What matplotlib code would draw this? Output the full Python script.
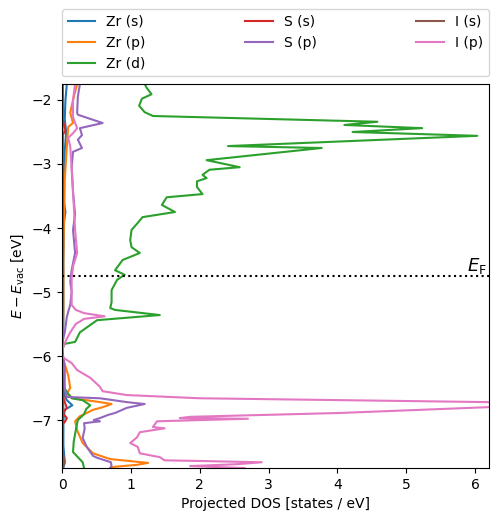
"""Projected DOS of ZrSI-type slab, energy vs vacuum level."""

import matplotlib.pyplot as plt

# energies [eV] and projected DOS [states / eV]
zr_s_E = [-1.75, -2.0, -2.3, -2.5, -2.8, -3.2, -3.6, -3.75, -3.9, -4.5, -5.0, -5.5,
          -5.8, -6.0, -6.4, -6.6, -6.69, -6.77, -6.84, -7.0, -7.4, -7.66, -7.75]
zr_s_dos = [0.07, 0.05, 0.04, 0.06, 0.04, 0.03, 0.03, 0.05, 0.03, 0.02, 0.02, 0.02,
            0.01, 0.0, 0.01, 0.03, 0.07, 0.15, 0.04, 0.02, 0.02, 0.04, 0.02]

zr_p_E = [-1.75, -2.0, -2.2, -2.36, -2.42, -2.73, -3.25, -3.8, -4.5, -5.3, -5.8, -6.0,
          -6.09, -6.30, -6.50, -6.58, -6.66, -6.72, -6.75, -6.80, -6.84, -6.89, -6.94,
          -7.02, -7.16, -7.36, -7.52, -7.61, -7.67, -7.70, -7.73, -7.75]
zr_p_dos = [0.22, 0.16, 0.12, 0.16, 0.09, 0.07, 0.04, 0.03, 0.02, 0.02, 0.01, 0.01,
            0.03, 0.09, 0.12, 0.07, 0.16, 0.55, 0.72, 0.59, 0.45, 0.36, 0.26,
            0.19, 0.22, 0.30, 0.45, 0.70, 1.25, 1.09, 0.77, 0.70]

zr_d_E = [-1.75, -1.81, -1.91, -1.98, -2.09, -2.19, -2.25, -2.34, -2.39, -2.44, -2.50,
          -2.56, -2.72, -2.75, -2.94, -3.05, -3.09, -3.17, -3.22, -3.27, -3.36, -3.47,
          -3.52, -3.64, -3.75, -3.83, -3.92, -4.03, -4.19, -4.30, -4.39, -4.50, -4.66,
          -4.73, -4.81, -4.97, -5.16, -5.25, -5.28, -5.36, -5.44, -5.63, -5.78, -5.81,
          -5.9, -6.45, -6.56, -6.66, -6.69, -6.77, -6.83, -6.91, -7.00, -7.16, -7.34,
          -7.50, -7.58, -7.66, -7.75]
zr_d_dos = [1.20, 1.23, 1.30, 1.16, 1.12, 1.20, 1.32, 4.58, 4.10, 5.23, 4.22,
            6.03, 2.41, 3.77, 2.10, 2.58, 2.14, 2.04, 2.10, 1.96, 1.96, 2.04,
            1.52, 1.45, 1.64, 1.17, 1.10, 1.01, 0.99, 1.01, 1.13, 0.88, 0.77,
            0.91, 0.80, 0.72, 0.72, 0.70, 0.77, 1.42, 0.51, 0.26, 0.19, 0.04,
            0.0, 0.0, 0.07, 0.14, 0.30, 0.41, 0.35, 0.32, 0.23, 0.20, 0.17,
            0.16, 0.23, 0.30, 0.32]

s_s_E = [-1.75, -2.3, -2.4, -2.47, -2.55, -3.0, -4.0, -5.0, -5.8, -6.5, -6.65, -6.72,
         -6.81, -6.89, -6.97, -7.03, -7.08, -7.5, -7.75]
s_s_dos = [0.01, 0.01, 0.03, 0.05, 0.01, 0.01, 0.01, 0.01, 0.0, 0.01, 0.02, 0.04,
           0.07, 0.01, 0.07, 0.04, 0.0, 0.01, 0.01]

s_p_E = [-1.75, -1.95, -2.20, -2.23, -2.36, -2.44, -2.55, -2.62, -2.75, -2.81, -3.05,
         -3.45, -3.78, -4.03, -4.39, -4.66, -4.84, -5.0, -5.20, -5.31, -5.39, -5.63,
         -5.77, -5.9, -6.02, -6.2, -6.5, -6.64, -6.66, -6.72, -6.75, -6.81, -6.89,
         -6.92, -6.97, -7.00, -7.02, -7.05, -7.13, -7.28, -7.42, -7.56, -7.59, -7.66,
         -7.72, -7.75]
s_p_dos = [0.26, 0.23, 0.22, 0.23, 0.59, 0.26, 0.29, 0.23, 0.29, 0.16, 0.14,
           0.16, 0.19, 0.16, 0.19, 0.14, 0.12, 0.14, 0.12, 0.09, 0.07, 0.04,
           0.01, 0.0, 0.02, 0.04, 0.04, 0.07, 0.55, 0.94, 1.20, 0.94, 0.77,
           0.67, 0.55, 0.46, 0.55, 0.32, 0.33, 0.30, 0.36, 0.45, 0.51, 0.71,
           0.72, 0.70]

i_s_E = [-1.75, -3.0, -5.0, -6.5, -6.8, -7.0, -7.5, -7.66, -7.72, -7.75]
i_s_dos = [0.01, 0.005, 0.005, 0.0, 0.02, 0.01, 0.01, 0.04, 0.02, 0.01]

i_p_E = [-1.75, -2.0, -2.27, -2.44, -2.52, -2.59, -2.73, -3.05, -3.41, -4.03, -4.39,
         -4.60, -4.80, -5.20, -5.28, -5.33, -5.38, -5.42, -5.50, -5.63, -5.75, -5.85,
         -5.95, -6.02, -6.11, -6.22, -6.34, -6.48, -6.55, -6.61, -6.66, -6.72, -6.76,
         -6.80, -6.89, -6.95, -6.97, -6.98, -7.02, -7.11, -7.13, -7.19, -7.27, -7.36,
         -7.42, -7.52, -7.58, -7.63, -7.64, -7.66, -7.69, -7.72, -7.75]
i_p_dos = [0.19, 0.16, 0.16, 0.22, 0.16, 0.09, 0.12, 0.14, 0.16, 0.19, 0.22,
           0.16, 0.14, 0.14, 0.20, 0.32, 0.62, 0.32, 0.20, 0.12, 0.06, 0.02,
           0.0, 0.01, 0.14, 0.22, 0.41, 0.55, 0.59, 0.94, 2.00, 6.17, 7.0,
           6.17, 4.03, 1.86, 1.71, 2.70, 1.38, 1.32, 1.49, 1.13, 1.09, 0.99,
           1.10, 1.13, 1.42, 1.49, 2.0, 2.90, 2.54, 1.86, 2.65]

fermi = -4.75

curves = [
    ("Zr (s)", zr_s_E, zr_s_dos),
    ("Zr (p)", zr_p_E, zr_p_dos),
    ("Zr (d)", zr_d_E, zr_d_dos),
    ("S (s)", s_s_E, s_s_dos),
    ("S (p)", s_p_E, s_p_dos),
    ("I (s)", i_s_E, i_s_dos),
    ("I (p)", i_p_E, i_p_dos),
]

fig = plt.figure(figsize=(4.98, 5.22), dpi=100)
ax = fig.add_axes([0.1245, 0.1034, 0.8574, 0.7357])

for label, energy, dos in curves:
    ax.plot(dos, energy, label=label)

ax.axhline(fermi, color="k", ls=":")
ax.text(6.17, fermi, r"$E_\mathrm{F}$", ha="right", va="bottom", fontsize=13)

ax.set_xlim(0, 6.2)
ax.set_ylim(-7.75, -1.75)
ax.set_xlabel("Projected DOS [states / eV]")
ax.set_ylabel(r"$E - E_\mathrm{vac}$ [eV]")
ax.legend(bbox_to_anchor=(0, 1.02, 1, 0.102), loc="lower left", mode="expand",
          ncol=3, borderaxespad=0)

fig.savefig("out.png", dpi=100)
